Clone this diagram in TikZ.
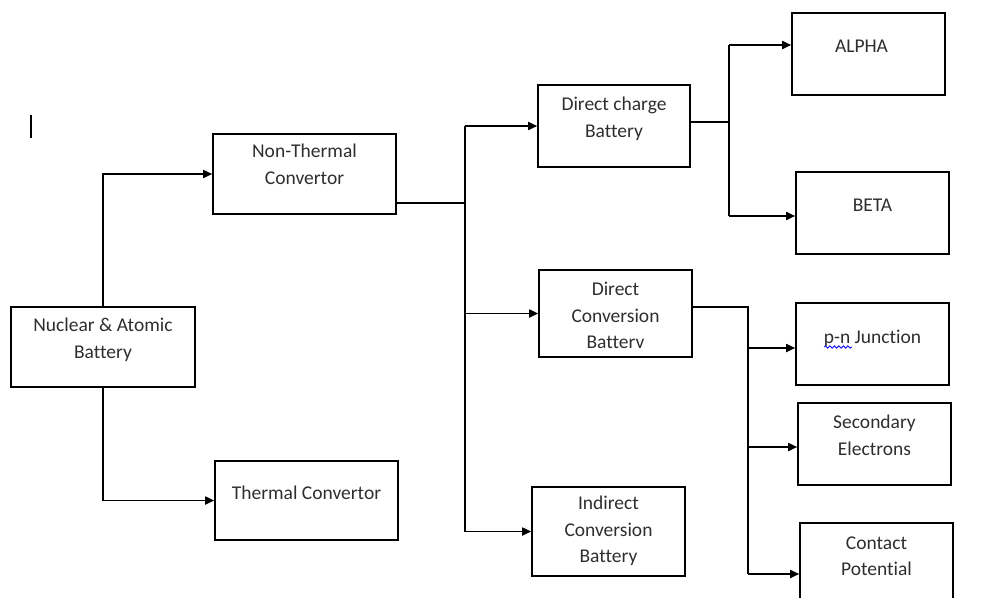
\documentclass[tikz,border=0pt]{standalone}
\usepackage{fontspec}
\setmainfont{Carlito}[Ligatures={NoCommon}]
\usetikzlibrary{arrows.meta,decorations.pathmorphing}
\begin{document}
\begin{tikzpicture}[x=1pt,y=-1pt,
  bx/.style 2 args={draw=black, line width=1.6pt, minimum width=#1, minimum height=#2, inner sep=0pt},
  lbl/.style={inner sep=0pt, align=center, text=black!82, font=\fontsize{19.5}{26.5}\selectfont},
  conn/.style={draw=black, line width=1.7pt},
  arr/.style={conn, -{Triangle[length=9pt,width=8pt]}}
]
\useasboundingbox (0,0) rectangle (981,597);
\clip (0,0) rectangle (981,597);

% boxes
\node[bx={184pt}{80pt}, label={[lbl,anchor=north,yshift=-12pt]north:{Nuclear \& Atomic\\Battery}}] (nuc) at (103,347) {};
\node[bx={183pt}{80pt}, label={[lbl,anchor=north,yshift=-11pt]north:{Non-Thermal\\Convertor}}] (nt) at (304.5,174) {};
\node[bx={183pt}{79pt}, label={[lbl,anchor=north,yshift=-26pt]north:{Thermal Convertor}}] (th) at (306.5,500.5) {};
\node[bx={152pt}{82pt}, label={[lbl,anchor=north,yshift=-13pt]north:{Direct charge\\Battery}}] (dc) at (614,126) {};
\node[bx={153pt}{82pt}, label={[lbl,anchor=north,yshift=-28pt,xshift=-7pt]north:{ALPHA}}] (al) at (868.5,54) {};
\node[bx={153pt}{82pt}, label={[lbl,anchor=north,yshift=-28pt]north:{BETA}}] (be) at (872.5,213) {};
\node[bx={153pt}{87pt}, label={[lbl,anchor=north,yshift=-13pt]north:{Direct\\Conversion\\Batterv}}] (dv) at (615.5,313.5) {};
\node[bx={153pt}{82pt}, label={[lbl,anchor=north,yshift=-28pt]north:{p-n Junction}}] (pn) at (872.5,344) {};
\node[bx={153pt}{82pt}, label={[lbl,anchor=north,yshift=-13pt]north:{Secondary\\Electrons}}] (se) at (874.5,444) {};
\node[bx={153pt}{82pt}, label={[lbl,anchor=north,yshift=-14pt]north:{Contact\\Potential}}] (cp) at (876.5,564) {};
\node[bx={153pt}{89pt}, label={[lbl,anchor=north,yshift=-10pt]north:{Indirect\\Conversion\\Battery}}] (ic) at (608.5,531.5) {};

% junction coordinates
\coordinate (j1) at (465,203);
\coordinate (j2) at (729,122);
\coordinate (a1) at (729,45);
\coordinate (b1) at (729,216);
\coordinate (j3) at (748,307);
\coordinate (c1) at (748,348);
\coordinate (c2) at (748,447);
\coordinate (c3) at (748,574);

% connectors
\draw[arr] (nuc.north) |- (nt.west);
\draw[arr] (nuc.south) |- (th.west);

\draw[conn] (nt.east |- j1) -- (j1);
\draw[conn] (j1 |- dc.west) -- (j1 |- ic.west);
\draw[arr] (j1 |- dc.west) -- (dc.west);
\draw[arr] (j1 |- dv.west) -- (dv.west);
\draw[arr] (j1 |- ic.west) -- (ic.west);

\draw[conn] (dc.east |- j2) -- (j2);
\draw[conn] (a1) -- (b1);
\draw[arr] (a1) -- (al.west |- a1);
\draw[arr] (b1) -- (be.west |- b1);

\draw[conn] (dv.east |- j3) -- (j3) -- (c3);
\draw[arr] (c1) -- (pn.west |- c1);
\draw[arr] (c2) -- (se.west |- c2);
\draw[arr] (c3) -- (cp.west |- c3);

% text cursor and spell-check squiggle
\draw[line width=1.5pt] (31,115) -- (31,138);
\draw[blue, line width=0.8pt, decorate, decoration={snake, amplitude=1.2pt, segment length=4.5pt}] (824,347) -- (852,347);
\end{tikzpicture}
\end{document}
